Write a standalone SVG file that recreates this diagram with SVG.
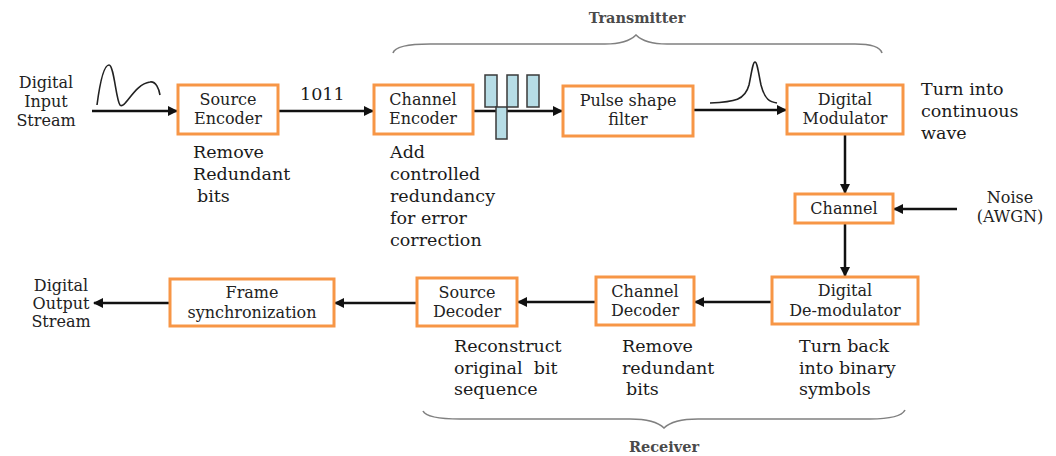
<svg xmlns="http://www.w3.org/2000/svg" width="1056" height="456" viewBox="0 0 1056 456">
  <style>
    .box { fill: #ffffff; stroke: #F79646; stroke-width: 3; }
    .lbl { font-family: "DejaVu Serif", "Liberation Serif", serif; font-size: 16px; fill: #222222; text-anchor: middle; }
    .note { font-family: "DejaVu Serif", "Liberation Serif", serif; font-size: 17.5px; fill: #1a1a1a; }
    .io { font-family: "DejaVu Serif", "Liberation Serif", serif; font-size: 16px; fill: #222222; text-anchor: middle; }
    .grp { font-family: "DejaVu Serif", "Liberation Serif", serif; font-size: 14.5px; font-weight: bold; fill: #4a4a4a; text-anchor: middle; }
    .wire { fill: none; stroke: #111111; stroke-width: 2.5; }
    .brace { fill: none; stroke: #808080; stroke-width: 1.6; }
    .wave { fill: none; stroke: #222222; stroke-width: 1.6; }
    .bar { fill: #B7DDE6; stroke: #3a3a3a; stroke-width: 1.5; }
  </style>
  <defs>
    <marker id="arrow" viewBox="0 0 10 10" refX="9" refY="5" markerWidth="4.2" markerHeight="4" orient="auto" markerUnits="strokeWidth">
      <path d="M0,0 L10,5 L0,10 Z" fill="#111111"/>
    </marker>
  </defs>

  <rect width="1056" height="456" fill="#ffffff"/>

  <!-- group braces -->
  <g id="transmitter-brace">
    <path class="brace" d="M393,53 C395,46 410,44 430,44 L605,44 C620,44 630,41 636,35 C642,41 652,44 667,44 L855,44 C870,44 880,46 882,53"/>
    <text class="grp" x="637" y="23">Transmitter</text>
  </g>
  <g id="receiver-brace">
    <path class="brace" d="M423,411 C426,417 440,419 460,419 L630,419 C648,419 658,422 664,428 C670,422 680,419 698,419 L870,419 C890,419 902,416 905,410"/>
    <text class="grp" x="664" y="452">Receiver</text>
  </g>

  <!-- connectors -->
  <g id="connectors">
    <line class="wire" x1="92" y1="111" x2="177" y2="111" marker-end="url(#arrow)"/>
    <line class="wire" x1="278" y1="111" x2="373" y2="111" marker-end="url(#arrow)"/>
    <line class="wire" x1="473" y1="111" x2="562" y2="111" marker-end="url(#arrow)"/>
    <line class="wire" x1="693" y1="110" x2="786" y2="110" marker-end="url(#arrow)"/>
    <line class="wire" x1="845" y1="134" x2="845" y2="193" marker-end="url(#arrow)"/>
    <line class="wire" x1="957" y1="209" x2="894" y2="209" marker-end="url(#arrow)"/>
    <line class="wire" x1="845" y1="223" x2="845" y2="276" marker-end="url(#arrow)"/>
    <line class="wire" x1="772" y1="302" x2="695" y2="302" marker-end="url(#arrow)"/>
    <line class="wire" x1="596" y1="302" x2="518" y2="302" marker-end="url(#arrow)"/>
    <line class="wire" x1="417" y1="303" x2="335" y2="303" marker-end="url(#arrow)"/>
    <line class="wire" x1="170" y1="303" x2="94" y2="303" marker-end="url(#arrow)"/>
  </g>

  <!-- signal sketches -->
  <g id="input-waveform">
    <path class="wave" d="M97,105 C100,82 104,65 109,65 C114,65 116,100 120,105 C125,110 134,84 150,82 C156,81 159,89 160,95"/>
  </g>
  <g id="coded-bits">
    <rect class="bar" x="485" y="75" width="12" height="32"/>
    <rect class="bar" x="496" y="107" width="11" height="32"/>
    <rect class="bar" x="507" y="75" width="11" height="32"/>
    <rect class="bar" x="527" y="75" width="12" height="32"/>
  </g>
  <g id="shaped-pulse">
    <path class="wave" d="M710,103 C735,102 745,100 749,85 C752,70 753,62 755,62 C757,62 758,70 761,85 C765,100 770,102 777,103"/>
  </g>

  <!-- stream labels -->
  <g id="input-stream">
    <text class="io" x="46" y="88">Digital</text>
    <text class="io" x="46" y="107">Input</text>
    <text class="io" x="46" y="126">Stream</text>
  </g>
  <g id="output-stream">
    <text class="io" x="61" y="291">Digital</text>
    <text class="io" x="61" y="309">Output</text>
    <text class="io" x="61" y="327">Stream</text>
  </g>
  <text class="note" x="300" y="100">1011</text>

  <!-- transmitter blocks -->
  <g id="source-encoder">
    <rect class="box" x="178" y="85" width="100" height="49"/>
    <text class="lbl" x="228" y="105">Source</text>
    <text class="lbl" x="228" y="124">Encoder</text>
    <text class="note" x="193" y="158">Remove</text>
    <text class="note" x="193" y="180">Redundant</text>
    <text class="note" x="197" y="202">bits</text>
  </g>
  <g id="channel-encoder">
    <rect class="box" x="374" y="85" width="99" height="49"/>
    <text class="lbl" x="423" y="105">Channel</text>
    <text class="lbl" x="423" y="124">Encoder</text>
    <text class="note" x="390" y="158">Add</text>
    <text class="note" x="390" y="180">controlled</text>
    <text class="note" x="390" y="202">redundancy</text>
    <text class="note" x="390" y="224">for error</text>
    <text class="note" x="390" y="246">correction</text>
  </g>
  <g id="pulse-shape-filter">
    <rect class="box" x="563" y="86" width="130" height="50"/>
    <text class="lbl" x="628" y="106">Pulse shape</text>
    <text class="lbl" x="628" y="125">filter</text>
  </g>
  <g id="digital-modulator">
    <rect class="box" x="787" y="85" width="116" height="49"/>
    <text class="lbl" x="845" y="105">Digital</text>
    <text class="lbl" x="845" y="124">Modulator</text>
    <text class="note" x="921" y="95">Turn into</text>
    <text class="note" x="921" y="117">continuous</text>
    <text class="note" x="921" y="139">wave</text>
  </g>

  <!-- channel -->
  <g id="channel">
    <rect class="box" x="795" y="194" width="98" height="29"/>
    <text class="lbl" x="844" y="214">Channel</text>
  </g>
  <g id="noise">
    <text class="io" x="1010" y="203">Noise</text>
    <text class="io" x="1010" y="222">(AWGN)</text>
  </g>

  <!-- receiver blocks -->
  <g id="digital-demodulator">
    <rect class="box" x="772" y="277" width="146" height="47"/>
    <text class="lbl" x="845" y="296">Digital</text>
    <text class="lbl" x="845" y="316">De-modulator</text>
    <text class="note" x="799" y="352">Turn back</text>
    <text class="note" x="799" y="374">into binary</text>
    <text class="note" x="799" y="395">symbols</text>
  </g>
  <g id="channel-decoder">
    <rect class="box" x="596" y="277" width="98" height="48"/>
    <text class="lbl" x="645" y="297">Channel</text>
    <text class="lbl" x="645" y="316">Decoder</text>
    <text class="note" x="622" y="352">Remove</text>
    <text class="note" x="622" y="374">redundant</text>
    <text class="note" x="626" y="395">bits</text>
  </g>
  <g id="source-decoder">
    <rect class="box" x="417" y="278" width="100" height="48"/>
    <text class="lbl" x="467" y="298">Source</text>
    <text class="lbl" x="467" y="317">Decoder</text>
    <text class="note" x="454" y="352">Reconstruct</text>
    <text class="note" x="454" y="374" xml:space="preserve">original  bit</text>
    <text class="note" x="454" y="395">sequence</text>
  </g>
  <g id="frame-synchronization">
    <rect class="box" x="170" y="279" width="164" height="47"/>
    <text class="lbl" x="252" y="298">Frame</text>
    <text class="lbl" x="252" y="318">synchronization</text>
  </g>
</svg>
